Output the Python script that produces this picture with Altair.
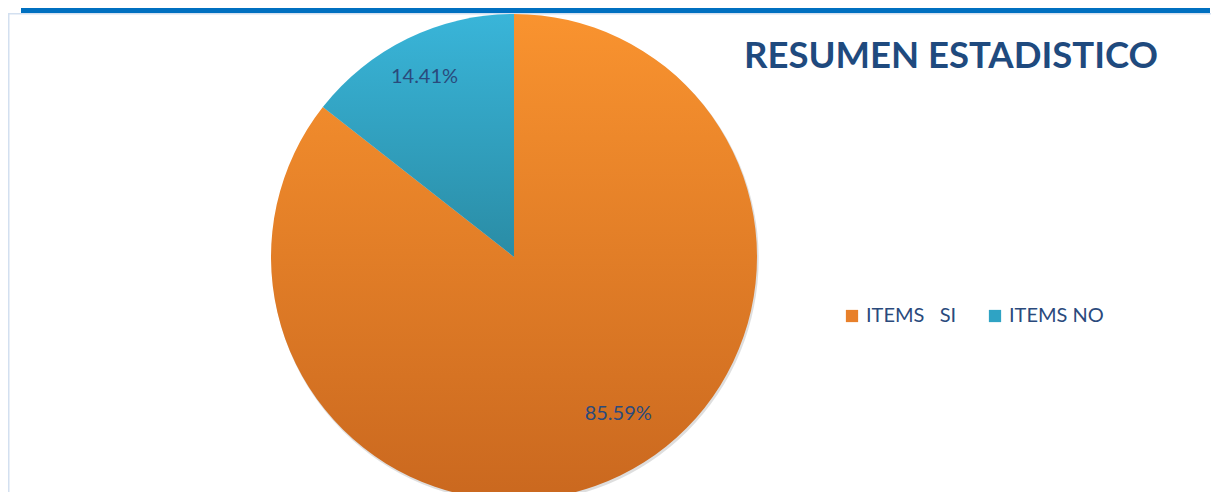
import math
import altair as alt
import pandas as pd

# ---- data ----
categories = ["ITEMS   SI", "ITEMS NO"]
values = [85.59, 14.41]
labels = ["85.59%", "14.41%"]
title_text = "RESUMEN ESTADISTICO"

cats = [c.replace(" ", "\u00a0") for c in categories]
df = pd.DataFrame({"cat": cats, "value": values, "label": labels, "order": list(range(len(cats)))})

W, H = 1203, 484
CX, CY, R = 506, 249, 243
TEXT_COL = "#2A4A7C"
ORANGE_MID, BLUE_MID = "#E8802A", "#2FA3C4"

theta_scale = alt.Scale(domain=[0, 100], range=[0, 2 * math.pi])

base = (
    alt.Chart(df)
    .transform_window(end="sum(value)", sort=[alt.SortField("order")], frame=[None, 0])
    .transform_calculate(start="datum.end - datum.value", mid="datum.end - datum.value / 2")
)


def grad(c0, c1):
    return alt.Gradient(
        gradient="linear", x1=0, x2=0, y1=0, y2=1,
        stops=[alt.GradientStop(color=c0, offset=0), alt.GradientStop(color=c1, offset=1)],
    )


shadow = base.transform_filter("datum.order == 0").mark_arc(
    radius=R + 0.5, theta=0, theta2=2 * math.pi, fill="#000000", opacity=0.13
).encode(x=alt.value(CX + 1.2), y=alt.value(CY + 2))

grads = [grad("#F9932F", "#CA681F"), grad("#39B5D9", "#2A8CA5")]
slices = [
    base.transform_filter(f"datum.order == {i}")
    .mark_arc(radius=R, fill=grads[i])
    .encode(
        theta=alt.Theta("start:Q", scale=theta_scale),
        theta2="end:Q",
        x=alt.value(CX), y=alt.value(CY),
    )
    for i in range(len(cats))
]

lab_si = base.transform_filter("datum.order == 0").mark_text(
    radius=188, dx=22, dy=-12, font="Lato", fontSize=20, color=TEXT_COL
).encode(theta=alt.Theta("mid:Q", scale=theta_scale), text="label:N", x=alt.value(CX), y=alt.value(CY))

lab_no = base.transform_filter("datum.order == 1").mark_text(
    radius=200, dx=-2, font="Lato", fontSize=20, color=TEXT_COL
).encode(theta=alt.Theta("mid:Q", scale=theta_scale), text="label:N", x=alt.value(CX), y=alt.value(CY))

legend_layer = base.mark_point(opacity=0, filled=True, shape="square").encode(
    x=alt.value(0), y=alt.value(0),
    color=alt.Color(
        "cat:N",
        scale=alt.Scale(domain=cats, range=[ORANGE_MID, BLUE_MID]),
        legend=alt.Legend(
            orient="none", legendX=834, legendY=298, direction="horizontal", title=None,
            symbolType="square", symbolSize=150, symbolOpacity=1, symbolStrokeWidth=0,
            labelFont="Lato", labelFontSize=20, labelColor=TEXT_COL,
            columnPadding=28, labelOffset=4,
        ),
    ),
)

title_df = pd.DataFrame({"t": [title_text]})
title = alt.Chart(title_df).mark_text(
    font="Lato", fontSize=36.5, fontWeight="bold", color="#1F4A7E", align="center", baseline="alphabetic"
).encode(text="t:N", x=alt.value(943), y=alt.value(60))

topbar = alt.Chart(title_df).mark_rect(color="#0070C0").encode(
    x=alt.value(13), x2=alt.value(1202), y=alt.value(0), y2=alt.value(5)
)
border_top = alt.Chart(title_df).mark_rule(color="#D3E0F0", strokeWidth=1.5).encode(
    x=alt.value(0), x2=alt.value(W), y=alt.value(5.75)
)
border_left = alt.Chart(title_df).mark_rule(color="#D3E0F0", strokeWidth=1.5).encode(
    x=alt.value(0.75), y=alt.value(5), y2=alt.value(H)
)

chart = alt.layer(
    topbar, border_top, border_left, shadow, *slices, lab_si, lab_no, legend_layer, title
).properties(
    width=W, height=H, autosize=alt.AutoSizeParams(type="none"), padding=0, background="white"
).configure_view(stroke=None)

chart.save("out.html", embed_options={"renderer": "svg", "actions": False})
